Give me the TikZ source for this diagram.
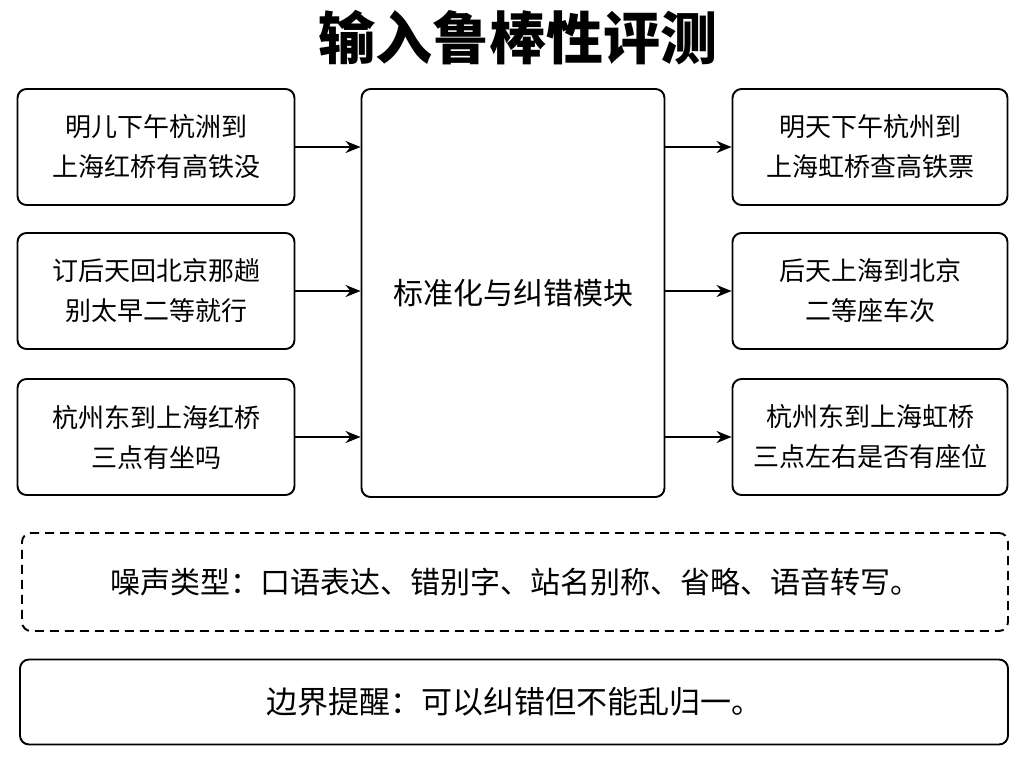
\documentclass[tikz,border=0pt]{standalone}
\usepackage{fontspec}
\setmainfont{Noto Sans CJK SC}
\usetikzlibrary{positioning, arrows.meta}
\begin{document}
\begin{tikzpicture}[x=1pt, y=-1pt,
		inbox/.style={rectangle, rounded corners=9pt, draw, line width=1.9pt, minimum width=277pt, minimum height=116pt, align=center, font=\fontsize{26}{40}\selectfont},
		arr/.style={-{Stealth[length=15pt,width=12pt]}, line width=1.9pt}
		]
		\useasboundingbox (0,0) rectangle (1024,768);
		\node[font=\fontsize{57}{60}\bfseries\selectfont] (T) at (518,38) {输入鲁棒性评测};
		% inputs
		\node[inbox] (L1) at (156,147) {明儿下午杭洲到\\上海红桥有高铁没};
		\node[inbox] (L2) at (156,291) {订后天回北京那趟\\别太早二等就行};
		\node[inbox] (L3) at (156,437) {杭州东到上海红桥\\三点有坐吗};
		% module
		\node[inbox, minimum width=303pt, minimum height=408pt, font=\fontsize{30}{36}\selectfont] (M) at (513,293) {标准化与纠错模块};
		% outputs
		\node[inbox, minimum width=275pt] (R1) at (870,147) {明天下午杭州到\\上海虹桥查高铁票};
		\node[inbox, minimum width=275pt] (R2) at (870,291) {后天上海到北京\\二等座车次};
		\node[inbox, minimum width=275pt] (R3) at (870,437) {杭州东到上海虹桥\\三点左右是否有座位};
		\foreach \i/\y in {1/147, 2/291, 3/437} {
			\draw[arr] (L\i.east) -- (M.west |- 0,\y);
			\draw[arr] (M.east |- 0,\y) -- (R\i.west);
		}
		% notes
		\node[inbox, dash pattern=on 9pt off 6pt, minimum width=986pt, minimum height=98pt, font=\fontsize{30}{36}\selectfont] (N) at (515,582) {噪声类型：口语表达、错别字、站名别称、省略、语音转写。};
		\node[inbox, minimum width=988pt, minimum height=85pt, font=\fontsize{31}{36}\selectfont] (B) at (514,702) {边界提醒：可以纠错但不能乱归一。};
\end{tikzpicture}
\end{document}
